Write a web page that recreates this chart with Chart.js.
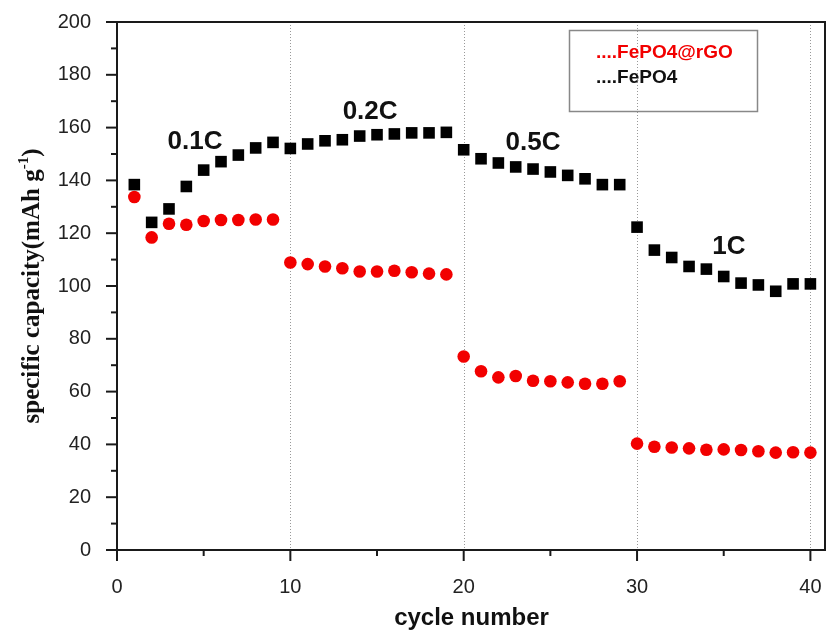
<!DOCTYPE html>
<html lang="en">
<head>
    <meta charset="UTF-8">
    <title>Rate capability</title>
    <script src="https://cdn.jsdelivr.net/npm/chart.js"></script>
    <style>
        html, body { margin: 0; padding: 0; background: #fff; }
        #rateChart { display: block; }
    </style>
</head>
<body>
    <canvas id="rateChart" width="827" height="631"></canvas>
    <script>
        // cycle index and discharge capacity (mAh/g) for each sample
        const cycles = [1, 2, 3, 4, 5, 6, 7, 8, 9, 10,
                        11, 12, 13, 14, 15, 16, 17, 18, 19, 20,
                        21, 22, 23, 24, 25, 26, 27, 28, 29, 30,
                        31, 32, 33, 34, 35, 36, 37, 38, 39, 40];
        const fepo4Rgo = [133.7, 118.4, 123.6, 123.2, 124.6, 125.0, 125.0, 125.2, 125.2, 108.9,
                          108.3, 107.4, 106.7, 105.5, 105.5, 105.8, 105.2, 104.7, 104.4, 73.3,
                          67.7, 65.4, 65.9, 64.1, 63.9, 63.5, 63.0, 63.0, 63.9, 40.3,
                          39.1, 38.8, 38.5, 38.0, 38.1, 37.9, 37.4, 36.9, 37.0, 36.9];
        const fepo4 = [138.4, 124.1, 129.2, 137.7, 143.9, 147.1, 149.6, 152.3, 154.4, 152.1,
                       153.8, 155.0, 155.4, 156.8, 157.3, 157.6, 158.0, 158.0, 158.2, 151.6,
                       148.2, 146.6, 145.1, 144.3, 143.2, 141.9, 140.6, 138.4, 138.4, 122.3,
                       113.6, 110.8, 107.4, 106.4, 103.6, 101.1, 100.4, 98.0, 100.8, 100.8];
        const seriesNames = ['FePO4@rGO', 'FePO4'];
        const xTicks = [0, 10, 20, 30, 40];
        const xMinor = [5, 15, 25, 35];
        const yTicks = [0, 20, 40, 60, 80, 100, 120, 140, 160, 180, 200];
        const yMinor = [10, 30, 50, 70, 90, 110, 130, 150, 170, 190];
        const rateGrid = [10, 20, 30, 40];

        // C-rate captions, anchored in data units
        const rateLabels = ['0.1C', '0.2C', '0.5C', '1C'];
        const rateAtCycle = [4.5, 14.6, 24.0, 35.3];
        const rateAtCapacity = [154.5, 165.8, 154.3, 115.0];

        const RED = '#f20000';
        const SANS = "'Liberation Sans', Arial, sans-serif";
        const SERIF = "'Liberation Serif', 'Times New Roman', serif";

        const toPoints = ys => cycles.map((c, i) => ({ x: c, y: ys[i] }));

        // frame, dotted rate separators, tick marks, captions, legend, axis titles
        const decorations = {
            id: 'decorations',
            beforeDatasetsDraw(chart) {
                const { ctx, chartArea: a, scales: { x } } = chart;
                ctx.save();
                ctx.strokeStyle = '#999';
                ctx.lineWidth = 1;
                ctx.setLineDash([1, 2]);
                rateGrid.forEach(v => {
                    const px = Math.round(x.getPixelForValue(v)) + 0.5;
                    ctx.beginPath();
                    ctx.moveTo(px, a.top);
                    ctx.lineTo(px, a.bottom);
                    ctx.stroke();
                });
                ctx.restore();
            },
            afterDatasetsDraw(chart) {
                const { ctx, chartArea: a, scales: { x, y } } = chart;
                ctx.save();

                // axes box
                ctx.strokeStyle = '#1a1a1a';
                ctx.lineWidth = 2;
                ctx.beginPath();
                ctx.moveTo(a.left, a.top);
                ctx.lineTo(a.right - 1, a.top);
                ctx.lineTo(a.right - 1, a.bottom);
                ctx.lineTo(a.left, a.bottom);
                ctx.closePath();
                ctx.stroke();

                // outward tick marks
                const tickY = (v, len) => {
                    const py = y.getPixelForValue(v);
                    ctx.beginPath();
                    ctx.moveTo(a.left, py);
                    ctx.lineTo(a.left - len, py);
                    ctx.stroke();
                };
                const tickX = (v, len) => {
                    const px = x.getPixelForValue(v);
                    ctx.beginPath();
                    ctx.moveTo(px, a.bottom);
                    ctx.lineTo(px, a.bottom + len);
                    ctx.stroke();
                };
                yTicks.forEach(v => tickY(v, 11));
                yMinor.forEach(v => tickY(v, 6));
                xTicks.forEach(v => tickX(v, 11));
                xMinor.forEach(v => tickX(v, 6));

                // C-rate captions
                ctx.fillStyle = '#111';
                ctx.font = 'bold 26px ' + SANS;
                ctx.textAlign = 'center';
                ctx.textBaseline = 'middle';
                rateLabels.forEach((t, i) => {
                    ctx.fillText(t, x.getPixelForValue(rateAtCycle[i]), y.getPixelForValue(rateAtCapacity[i]));
                });

                // legend box
                ctx.strokeStyle = '#888';
                ctx.lineWidth = 1.5;
                ctx.strokeRect(569.5, 30.5, 188, 81);
                ctx.textAlign = 'left';
                ctx.textBaseline = 'alphabetic';
                ctx.font = 'bold 19px ' + SANS;
                ctx.fillStyle = RED;
                ctx.fillText('....' + seriesNames[0], 596, 58);
                ctx.fillStyle = '#111';
                ctx.fillText('....' + seriesNames[1], 596, 83);

                // x axis title
                ctx.font = 'bold 24px ' + SANS;
                ctx.textAlign = 'center';
                ctx.fillText('cycle number', (a.left + a.right) / 2, 625);

                // y axis title with superscript
                const main = 'specific capacity(mAh g';
                const sup = '-1';
                const close = ')';
                const bigFont = 'bold 25px ' + SERIF;
                const supFont = 'bold 15px ' + SERIF;
                ctx.font = bigFont;
                const wMain = ctx.measureText(main).width;
                const wClose = ctx.measureText(close).width;
                ctx.font = supFont;
                const wSup = ctx.measureText(sup).width;
                const total = wMain + wSup + wClose;
                ctx.translate(39, (a.top + a.bottom) / 2);
                ctx.rotate(-Math.PI / 2);
                ctx.textAlign = 'left';
                let cx = -total / 2;
                ctx.font = bigFont;
                ctx.fillText(main, cx, 0);
                cx += wMain;
                ctx.font = supFont;
                ctx.fillText(sup, cx, -11);
                cx += wSup;
                ctx.font = bigFont;
                ctx.fillText(close, cx, 0);

                ctx.restore();
            }
        };

        new Chart(document.getElementById('rateChart'), {
            type: 'scatter',
            data: {
                datasets: [
                    {
                        label: seriesNames[0],
                        data: toPoints(fepo4Rgo),
                        pointStyle: 'circle',
                        pointRadius: 6.3,
                        backgroundColor: RED,
                        borderWidth: 0
                    },
                    {
                        label: seriesNames[1],
                        data: toPoints(fepo4),
                        pointStyle: 'rect',
                        pointRadius: 8.2,
                        backgroundColor: '#000',
                        borderWidth: 0
                    }
                ]
            },
            options: {
                responsive: false,
                devicePixelRatio: 1,
                animation: false,
                layout: {
                    autoPadding: false,
                    padding: { top: 22, right: 1, left: 0, bottom: 0 }
                },
                plugins: {
                    legend: { display: false },
                    tooltip: { enabled: false }
                },
                scales: {
                    x: {
                        type: 'linear',
                        min: 0,
                        max: 40.9,
                        grid: { display: false },
                        border: { display: false },
                        afterBuildTicks: s => { s.ticks = xTicks.map(v => ({ value: v })); },
                        afterFit: s => {
                            s.height = 81;
                            s.paddingLeft = 0;
                            s.paddingRight = 0;
                        },
                        ticks: {
                            color: '#222',
                            padding: 17,
                            maxRotation: 0,
                            font: { family: SANS, size: 20 }
                        }
                    },
                    y: {
                        min: 0,
                        max: 200,
                        grid: { display: false },
                        border: { display: false },
                        afterBuildTicks: s => { s.ticks = yTicks.map(v => ({ value: v })); },
                        afterFit: s => {
                            s.width = 117;
                            s.paddingTop = 0;
                            s.paddingBottom = 0;
                        },
                        ticks: {
                            color: '#222',
                            padding: 18,
                            font: { family: SANS, size: 20 }
                        }
                    }
                }
            },
            plugins: [decorations]
        });
    </script>
</body>
</html>
